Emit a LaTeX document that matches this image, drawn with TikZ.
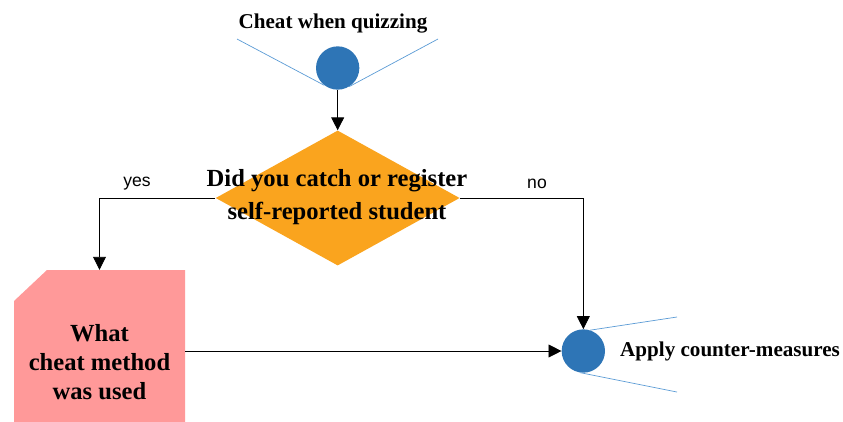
\documentclass[tikz,border=0pt]{standalone}
\usepackage{fontspec}
\setmainfont{Liberation Serif}
\newfontfamily\labelfont{Liberation Sans}
\usetikzlibrary{arrows.meta,positioning,shapes.geometric}
\definecolor{DotBlue}{HTML}{2E75B6}
\definecolor{RayBlue}{HTML}{5B9BD5}
\definecolor{AskOrange}{HTML}{FAA41E}
\definecolor{BoxPink}{HTML}{FF9999}

\begin{document}
\begin{tikzpicture}[
  dot/.style={circle,fill=DotBlue,minimum size=1.30cm,inner sep=0pt},
  ray/.style={draw=RayBlue,line width=0.6pt},
  flow/.style={draw=black,line width=0.7pt,-{Triangle[length=11pt,width=11pt]}},
  branch/.style={font=\labelfont\fontsize{15}{18}\selectfont,inner sep=0pt}
]
\clip (0,0) rectangle (25.29,-12.63);
% start
\node[dot] (start) at (10.13,-2.04) {};
\node[font=\bfseries\fontsize{18}{22}\selectfont] (cheat) at (9.99,-0.72) {Cheat when quizzing};
\coordinate (startL) at (7.11,-1.17);
\coordinate (startR) at (13.14,-1.17);
\draw[ray] (startL) -- (start.-128);
\draw[ray] (start.-58) -- (startR);
% decision
\node[diamond,fill=AskOrange,minimum width=7.32cm,minimum height=4.05cm,inner sep=0pt] (ask) at (10.13,-5.94) {};
\node[font=\bfseries\fontsize{21}{28}\selectfont,align=center] (asktext) at (10.11,-5.91) {Did you catch or register\\self-reported student};
% cheat method (snipped corner box)
\fill[BoxPink] (0.42,-9.03) -- (1.41,-8.10) -- (5.55,-8.10) -- (5.55,-13.62) -- (0.42,-13.62) -- cycle;
\node[minimum width=5.13cm,minimum height=5.52cm,inner sep=0pt,
  font=\bfseries\fontsize{21}{25}\selectfont,align=center] (method) at (2.985,-10.86) {What\\cheat method\\was used};
% end
\node[dot] (apply) at (17.50,-10.53) {};
\node[font=\bfseries\fontsize{18}{22}\selectfont,anchor=west,inner sep=0pt] (applytext) at (18.60,-10.53) {Apply counter-measures};
\coordinate (applyU) at (20.31,-9.51);
\coordinate (applyD) at (20.31,-11.76);
\draw[ray] (apply.72) -- (applyU);
\draw[ray] (apply.-98) -- (applyD);
% connectors
\draw[flow] (start.south) -- (ask.north);
\draw[flow] (ask.west) -| (method.north);
\draw[flow] (ask.east) -| (apply.north);
\draw[flow] (apply.west -| method.east) -- (apply.west);
\node[branch] (yes) at (4.11,-5.52) {yes};
\node[branch] (no) at (16.11,-5.52) {no};
\end{tikzpicture}
\end{document}
